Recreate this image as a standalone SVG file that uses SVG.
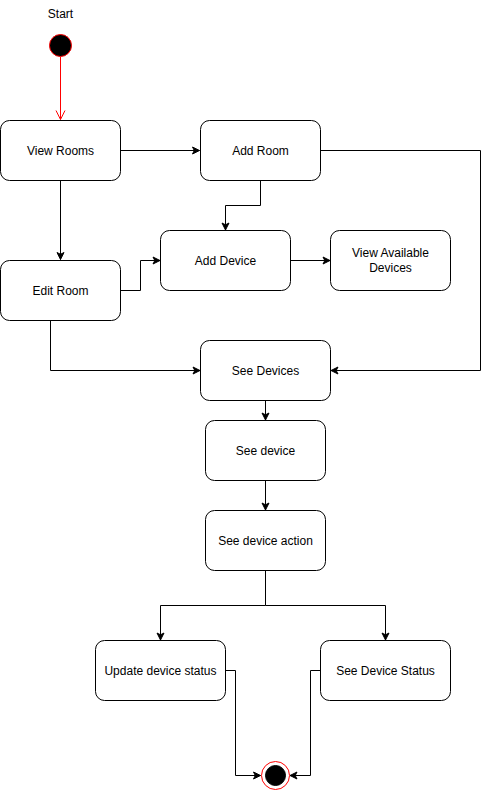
<svg xmlns="http://www.w3.org/2000/svg" width="489" height="791" viewBox="0 0 489 791">
<style>
.box{fill:#fff;stroke:#000;stroke-width:1}
.t{font-family:"Liberation Sans",Arial,sans-serif;font-size:12px;fill:#000;text-anchor:middle;dominant-baseline:central}
.c{fill:none;stroke:#000;stroke-width:1}
</style>
<defs>
<marker id="a" markerWidth="10" markerHeight="10" refX="8" refY="5" orient="auto" markerUnits="userSpaceOnUse">
<path d="M1,1.5 L8,5 L1,8.5 L2.8,5 Z" fill="#000" stroke="#000" stroke-width="1"/>
</marker>
<marker id="o" markerWidth="12" markerHeight="12" refX="10" refY="6" orient="auto" markerUnits="userSpaceOnUse">
<path d="M1,1.5 L10,6 L1,10.5" fill="none" stroke="#f00" stroke-width="1"/>
</marker>
</defs>
<rect width="489" height="791" fill="#fff"/>
<g id="connectors">
<path class="c" d="M60.5,57 V119.5" stroke="#f00" style="stroke:#f00" marker-end="url(#o)"/>
<path class="c" d="M120.5,150.5 H199.5" marker-end="url(#a)"/>
<path class="c" d="M60.5,180.5 V259.5" marker-end="url(#a)"/>
<path class="c" d="M260.5,180.5 V205.5 H225.5 V230" marker-end="url(#a)"/>
<path class="c" d="M320.5,150.5 H480.5 V370.5 H331" marker-end="url(#a)"/>
<path class="c" d="M120.5,290.5 H140.5 V260.5 H160" marker-end="url(#a)"/>
<path class="c" d="M50.5,320.5 V370.5 H200" marker-end="url(#a)"/>
<path class="c" d="M290.5,260.5 H330" marker-end="url(#a)"/>
<path class="c" d="M265.5,400.5 V420" marker-end="url(#a)"/>
<path class="c" d="M265.5,480.5 V510" marker-end="url(#a)"/>
<path class="c" d="M265.5,570.5 V605.5 H160.5 V640" marker-end="url(#a)"/>
<path class="c" d="M265.5,605.5 H385.5 V640" marker-end="url(#a)"/>
<path class="c" d="M225.5,670.5 H235.5 V775.5 H260.5" marker-end="url(#a)"/>
<path class="c" d="M320.5,670.5 H310.5 V775.5 H290" marker-end="url(#a)"/>
</g>
<g id="start">
<text class="t" x="60.5" y="14">Start</text>
<circle cx="60.5" cy="45.5" r="11" fill="#000" stroke="#f00" stroke-width="1"/>
</g>
<g id="view-rooms"><rect class="box" x="0.5" y="120.5" width="120" height="60" rx="9"/><text class="t" x="60.5" y="150.5">View Rooms</text></g>
<g id="add-room"><rect class="box" x="200.5" y="120.5" width="120" height="60" rx="9"/><text class="t" x="260.5" y="150.5">Add Room</text></g>
<g id="add-device"><rect class="box" x="160.5" y="230.5" width="130" height="60" rx="9"/><text class="t" x="225.5" y="260.5">Add Device</text></g>
<g id="view-available-devices"><rect class="box" x="330.5" y="230.5" width="120" height="60" rx="9"/><text class="t" x="390.5" y="253">View Available</text><text class="t" x="390.5" y="268">Devices</text></g>
<g id="edit-room"><rect class="box" x="0.5" y="260.5" width="120" height="60" rx="9"/><text class="t" x="60.5" y="290.5">Edit Room</text></g>
<g id="see-devices"><rect class="box" x="200.5" y="340.5" width="130" height="60" rx="9"/><text class="t" x="265.5" y="370.5">See Devices</text></g>
<g id="see-device"><rect class="box" x="205.5" y="420.5" width="120" height="60" rx="9"/><text class="t" x="265.5" y="450.5">See device</text></g>
<g id="see-device-action"><rect class="box" x="205.5" y="510.5" width="120" height="60" rx="9"/><text class="t" x="265.5" y="540.5">See device action</text></g>
<g id="update-device-status"><rect class="box" x="95.5" y="640.5" width="130" height="60" rx="9"/><text class="t" x="160.5" y="670.5">Update device status</text></g>
<g id="see-device-status"><rect class="box" x="320.5" y="640.5" width="130" height="60" rx="9"/><text class="t" x="385.5" y="670.5">See Device Status</text></g>
<g id="end">
<circle cx="275.5" cy="775.5" r="14" fill="#fff" stroke="#f00" stroke-width="1"/>
<circle cx="275.5" cy="775.5" r="10" fill="#000" stroke="#000"/>
</g>
</svg>
